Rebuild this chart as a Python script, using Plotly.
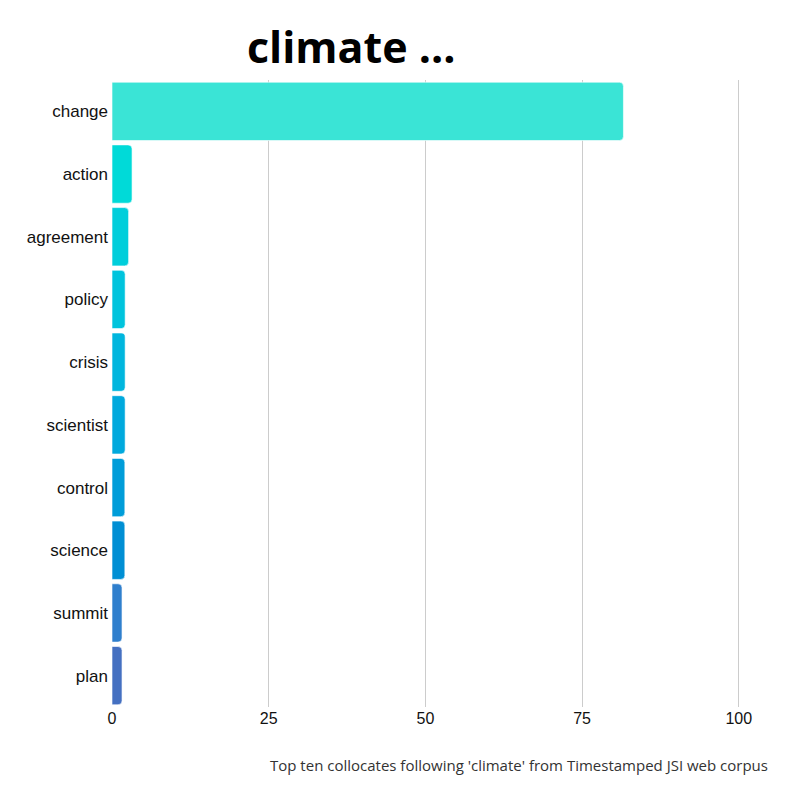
import plotly.graph_objects as go

categories = ["change", "action", "agreement", "policy", "crisis", "scientist",
              "control", "science", "summit", "plan"]
values = [81.6, 3.2, 2.65, 2.1, 2.1, 2.1, 2.05, 2.05, 1.6, 1.6]
colors = ["#3ae4d6", "#00dad8", "#00cedb", "#00c4dd", "#00b6de", "#00a9dd",
          "#009dd9", "#008fd4", "#2f7fcd", "#4470c1"]
tick_vals = [0, 25, 50, 75, 100]
title_text = "climate ..."
footer_text = "Top ten collocates following 'climate' from Timestamped JSI web corpus"

W, H = 800, 800
L, R, T, B = 104, 68, 72, 101

fig = go.Figure(go.Bar(
    x=values, y=categories, orientation="h",
    marker=dict(color=colors, line=dict(color="rgba(255,255,255,0.6)", width=1)),
))

fig.update_layout(
    width=W, height=H,
    margin=dict(l=L, r=R, t=T, b=B),
    paper_bgcolor="white", plot_bgcolor="white",
    bargap=0.07,
    barcornerradius=4,
    showlegend=False,
    font=dict(family="Liberation Sans, Arial", size=17, color="#111"),
    xaxis=dict(range=[0, 100.2], tickvals=tick_vals, showgrid=True,
               gridcolor="#cccccc", gridwidth=1, zeroline=False,
               showline=False, ticks="", tickfont=dict(size=16, color="#111")),
    yaxis=dict(autorange="reversed", showgrid=False, zeroline=False,
               ticks="", ticklabelstandoff=3, tickfont=dict(size=17, color="#111")),
    annotations=[
        dict(text="<b>" + title_text + "</b>", x=343 / W, y=1 - 38 / H,
             xref="paper", yref="paper", xanchor="center", yanchor="middle",
             showarrow=False,
             font=dict(family="Open Sans", size=43, color="#000")),
        dict(text=footer_text, x=762 / W, y=1 - 757 / H,
             xref="paper", yref="paper", xanchor="right", yanchor="middle",
             showarrow=False,
             font=dict(family="Open Sans", size=15, color="#333")),
    ],
)

# convert figure-pixel positions to plot-domain-relative coordinates
for a in fig.layout.annotations:
    px, py = a.x * W, (1 - a.y) * H
    a.x = (px - L) / (W - L - R)
    a.y = (H - B - py) / (H - T - B)

fig.write_html("out.html")
